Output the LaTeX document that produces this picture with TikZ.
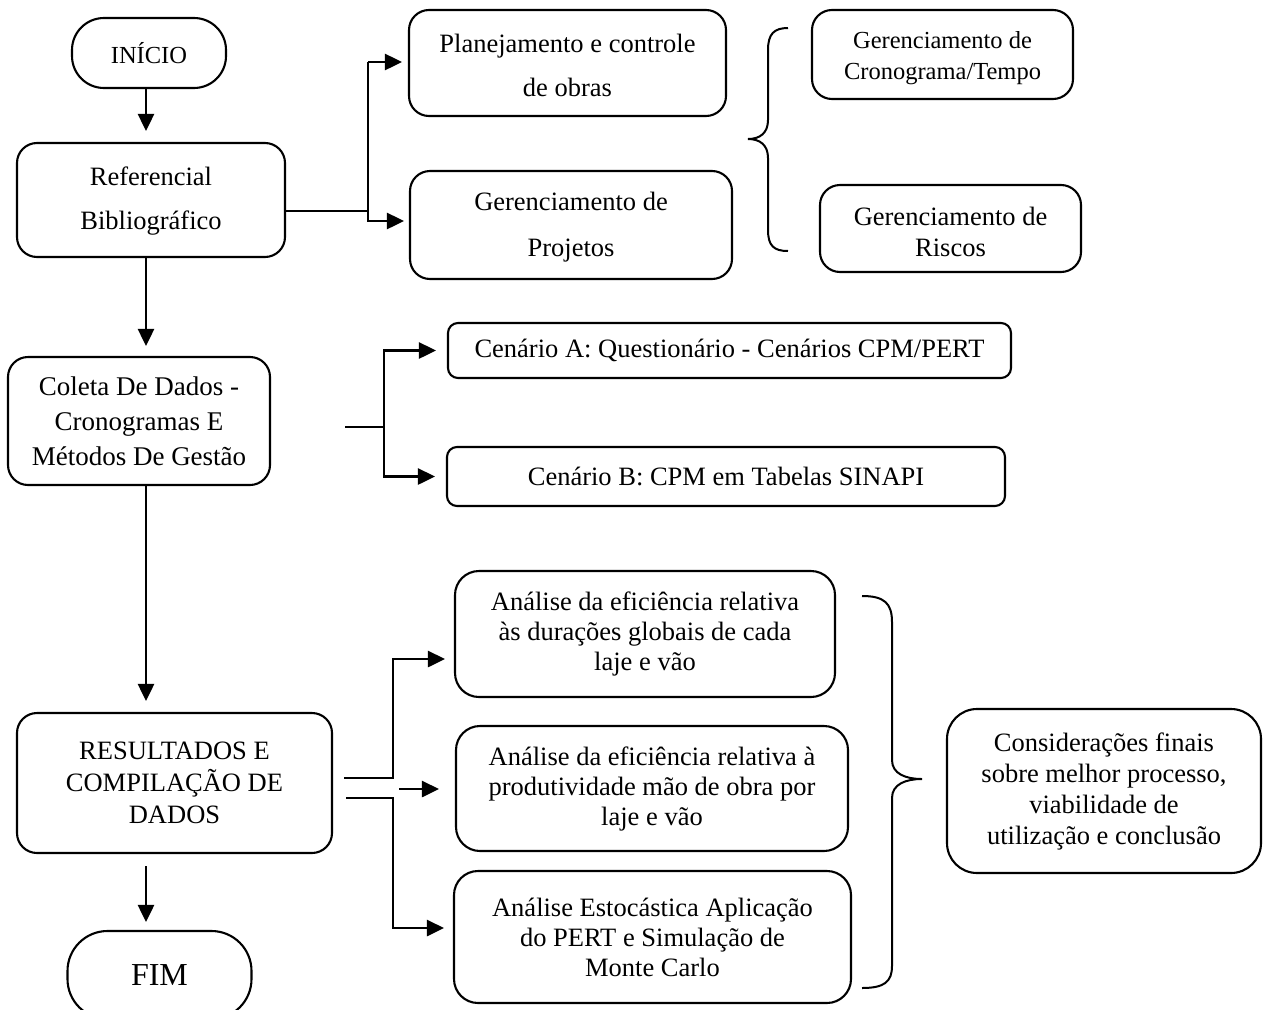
\documentclass[tikz,border=0pt]{standalone}
\usepackage{fontspec}
\setmainfont{Liberation Serif}
\usetikzlibrary{arrows.meta}
% invisible strut that lowers the text block inside a box
\newcommand{\lowerby}[1]{\rule{0pt}{#1}}
\begin{document}
\begin{tikzpicture}[x=1pt,y=-1pt,
  box/.style={draw, line width=2.1pt, rounded corners=20pt, align=center, inner sep=0pt,
    font={\fontsize{26.5}{31}\selectfont}},
  stad/.style={box, rounded corners=32pt},
  link/.style={line width=2.7pt},
  arr/.style={link, -{Triangle[length=17pt,width=16pt]}},
  bracepath/.style={line width=2pt}]
\clip (0,0) rectangle (1263,1009);
\fill[white] (0,0) rectangle (1263,1009);

% main column
\node[stad, minimum width=154pt, minimum height=70pt, font={\fontsize{24.5}{28}\selectfont}] (inicio) at (149,53) {INÍCIO};
\node[box, minimum width=268pt, minimum height=114pt, font={\fontsize{26.5}{44}\selectfont}] (ref) at (151,200) {\lowerby{20pt}Referencial\\Bibliográfico};
\node[box, minimum width=262pt, minimum height=128pt, font={\fontsize{27}{35}\selectfont}] (coleta) at (139,421) {Coleta De Dados -\\Cronogramas E\\Métodos De Gestão};
\node[box, minimum width=315pt, minimum height=140pt, font={\fontsize{26.5}{32}\selectfont}] (res) at (174.5,783) {RESULTADOS E\\COMPILAÇÃO DE\\DADOS};
\node[stad, minimum width=184pt, minimum height=88pt, rounded corners=40pt, font={\fontsize{32}{36}\selectfont}] (fim) at (159.5,975) {FIM};

% literature review branch
\node[box, minimum width=317pt, minimum height=106pt, font={\fontsize{26.5}{44}\selectfont}] (plan) at (567.5,63) {\lowerby{22.5pt}Planejamento e controle\\de obras};
\node[box, minimum width=322pt, minimum height=108pt, font={\fontsize{26.5}{46}\selectfont}] (proj) at (571,225) {\lowerby{22.5pt}Gerenciamento de\\Projetos};
\node[box, minimum width=261pt, minimum height=89pt, font={\fontsize{24.5}{31}\selectfont}] (crono) at (942.5,54.5) {\lowerby{25pt}Gerenciamento de\\Cronograma/Tempo};
\node[box, minimum width=261pt, minimum height=87pt, font={\fontsize{26.5}{31}\selectfont}] (riscos) at (950.5,228.5) {\lowerby{24.5pt}Gerenciamento de\\Riscos};

% data collection scenarios
\node[box, minimum width=563pt, minimum height=55pt, rounded corners=10pt] (cenA) at (729.5,350.5) {Cenário A: Questionário - Cenários CPM/PERT};
\node[box, minimum width=558pt, minimum height=59pt, rounded corners=10pt] (cenB) at (726,476.5) {Cenário B: CPM em Tabelas SINAPI};

% analyses
\node[box, minimum width=380pt, minimum height=126pt, rounded corners=24pt, font={\fontsize{26.5}{30}\selectfont}] (an1) at (645,634) {Análise da eficiência relativa\\às durações globais de cada\\laje e vão};
\node[box, minimum width=392pt, minimum height=125pt, rounded corners=24pt, font={\fontsize{26.5}{30}\selectfont}] (an2) at (652,788.5) {Análise da eficiência relativa à\\produtividade mão de obra por\\laje e vão};
\node[box, minimum width=397pt, minimum height=132pt, rounded corners=24pt, font={\fontsize{26.5}{30}\selectfont}] (an3) at (652.5,937) {Análise Estocástica Aplicação\\do PERT e Simulação de\\Monte Carlo};
\node[box, minimum width=314pt, minimum height=164pt, rounded corners=30pt, font={\fontsize{26.5}{31}\selectfont}] (consid) at (1104,791) {Considerações finais\\sobre melhor processo,\\viabilidade de\\utilização e conclusão};

% main flow
\coordinate (colx) at (146,0);
\draw[arr, shorten >=11pt] (inicio.south -| colx) -- (ref.north -| colx);
\draw[arr, shorten >=10pt] (ref.south -| colx) -- (coleta.north -| colx);
\draw[arr, shorten >=11pt] (coleta.south -| colx) -- (res.north -| colx);
\draw[arr, shorten <=12pt, shorten >=8pt] (res.south -| colx) -- (fim.north -| colx);

% literature review fork
\coordinate (j1) at (368,211);
\coordinate (j1b) at (368,221);
\coordinate (j1t) at (368,62);
\draw[link] (ref.east |- j1) -- (j1) -- (j1t);
\draw[arr, shorten >=6pt] (j1t) -- (j1t -| plan.west);
\draw[arr, shorten >=5pt] (j1) -- (j1b) -- (j1b -| proj.west);

% data collection fork
\coordinate (c2s) at (345,427);
\coordinate (j2) at (384,427);
\draw[link] (c2s) -- (j2);
\draw[arr, shorten >=11pt] (j2) |- (cenA.west);
\draw[arr, shorten >=11pt] (j2) |- (cenB.west);

% results fork
\coordinate (r1s) at (344,778);
\coordinate (r1j) at (393,778);
\coordinate (r1t) at (393,659);
\coordinate (r2s) at (346,798);
\coordinate (r2j) at (393,798);
\coordinate (r2t) at (393,928);
\coordinate (r3s) at (399,789);
\draw[arr, shorten >=9pt] (r1s) -- (r1j) -- (r1t) -- (r1t -| an1.west);
\draw[arr, shorten >=9pt] (r2s) -- (r2j) -- (r2t) -- (r2t -| an3.west);
\draw[arr, shorten >=16pt] (r3s) -- (r3s -| an2.west);

% braces
\draw[bracepath] (788,28) .. controls (774,28) and (768,34) .. (768,50) -- (768,120)
  .. controls (768,133) and (760,139) .. (748,139)
  .. controls (760,139) and (768,145) .. (768,158) -- (768,230)
  .. controls (768,246) and (774,251) .. (788,251);
\draw[bracepath] (862,596) .. controls (884,596) and (892,603) .. (892,622) -- (892,760)
  .. controls (892,774) and (906,779) .. (922,779)
  .. controls (906,779) and (892,784) .. (892,798) -- (892,966)
  .. controls (892,982) and (884,988) .. (862,988);
\end{tikzpicture}
\end{document}
